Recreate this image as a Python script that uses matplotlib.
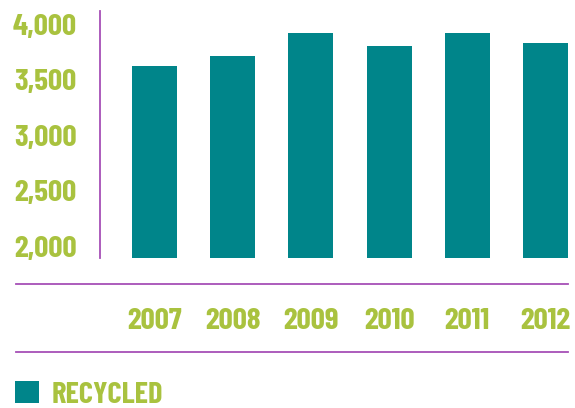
import matplotlib
matplotlib.use('Agg')
import matplotlib.pyplot as plt
from matplotlib.lines import Line2D

years = ['2007', '2008', '2009', '2010', '2011', '2012']
recycled = [3620, 3710, 3920, 3800, 3920, 3830]
yticks = [2000, 2500, 3000, 3500, 4000]
series_name = 'RECYCLED'

teal = '#00858A'
green = '#A9C23F'
purple = '#A64FB6'

plt.rcParams['font.family'] = ['Barlow Condensed', 'DejaVu Sans']
plt.rcParams['font.weight'] = 700

W, H = 575, 408
fig = plt.figure(figsize=(W / 100, H / 100), dpi=100)

# axes box in pixels: x 100..570, y 11..258 (from top)
ax = fig.add_axes([100 / W, 1 - 258 / H, 470 / W, 247 / H])

x = list(range(len(years)))
bars = ax.bar(x, recycled, width=0.575, color=teal)
ax.set_xlim(-0.697, 5.313)
ax.set_ylim(1898, 4117)

fs = 22.5
ax.set_yticks(yticks)
ax.set_yticklabels([f'{v:,}' for v in yticks], fontsize=fs, color=green)
ax.set_xticks(x)
ax.set_xticklabels(years, fontsize=fs, color=green)
ax.tick_params(axis='both', length=0)
ax.tick_params(axis='y', pad=17)
ax.tick_params(axis='x', pad=36)

for s in ['top', 'right', 'bottom']:
    ax.spines[s].set_visible(False)
ax.spines['left'].set_color(purple)
ax.spines['left'].set_linewidth(1.3)

# rules above and below the year labels
for yp in (284, 352):
    fig.add_artist(Line2D([16 / W, 568 / W], [1 - yp / H, 1 - yp / H],
                          color=purple, linewidth=1.3))

leg = ax.legend([bars], [series_name], loc='center left',
                bbox_to_anchor=(6 / W, 1 - 395 / H), bbox_transform=fig.transFigure,
                frameon=False, fontsize=22, handlelength=0.78, handleheight=0.75,
                handletextpad=0.42, borderaxespad=0, borderpad=0.3)
for t in leg.get_texts():
    t.set_color(green)

fig.savefig('out.png', dpi=100)
